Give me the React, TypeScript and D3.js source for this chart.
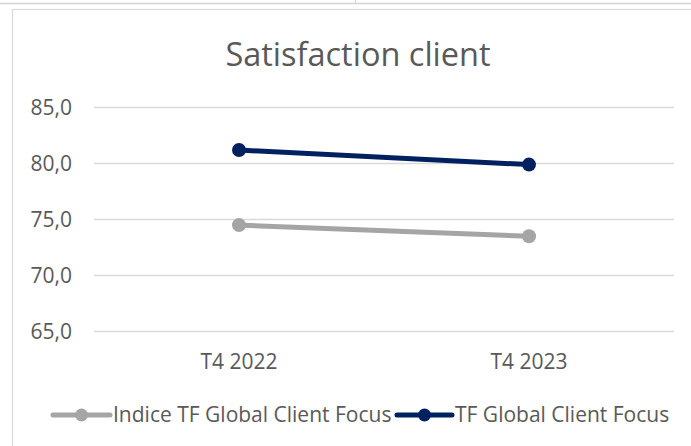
import React, { useEffect, useRef } from 'react';
import * as d3 from 'd3';

const categories = ['T4 2022', 'T4 2023'];
const indiceValues = [74.5, 73.5];
const focusValues = [81.2, 79.9];
const yTicks = [65, 70, 75, 80, 85];

const seriesNames = ['Indice TF Global Client Focus', 'TF Global Client Focus'];
const seriesColors = ['#A5A5A5', '#002060'];

const FONT = '"Open Sans", sans-serif';

const App: React.FC = () => {
  const ref = useRef<SVGSVGElement | null>(null);

  useEffect(() => {
    if (!ref.current) return;
    const svg = d3.select(ref.current);
    svg.selectAll('*').remove();

    const width = 691;
    const height = 446;

    svg.append('rect').attr('width', width).attr('height', height).attr('fill', '#fff');

    // spreadsheet cell lines behind the chart
    svg.append('line').attr('x1', 0).attr('x2', width).attr('y1', 3.5).attr('y2', 3.5)
      .attr('stroke', '#D4D4D4').attr('stroke-width', 1.5);
    svg.append('line').attr('x1', 355.5).attr('x2', 355.5).attr('y1', 0).attr('y2', 3)
      .attr('stroke', '#D4D4D4');

    // chart frame
    svg.append('rect').attr('x', 12.5).attr('y', 9.5).attr('width', 700).attr('height', 460)
      .attr('fill', '#fff').attr('stroke', '#D9D9D9').attr('stroke-width', 1.2);

    const x = d3.scaleBand().domain(categories).range([94, 674]).padding(0);
    const y = d3.scaleLinear().domain([65, 85]).range([331.5, 107.5]);
    const cx = (c: string) => (x(c) ?? 0) + x.bandwidth() / 2;

    // title
    svg.append('text')
      .attr('x', 358).attr('y', 66)
      .attr('text-anchor', 'middle')
      .attr('font-family', FONT).attr('font-size', 32.5)
      .attr('fill', '#595959')
      .text('Satisfaction client');

    // gridlines
    const grid = svg.append('g');
    grid.selectAll('line').data(yTicks).enter().append('line')
      .attr('x1', 94).attr('x2', 674)
      .attr('y1', d => y(d)).attr('y2', d => y(d))
      .attr('stroke', '#D9D9D9').attr('stroke-width', 1.5);

    // y labels
    svg.append('g').selectAll('text').data(yTicks).enter().append('text')
      .attr('x', 72).attr('y', d => y(d))
      .attr('dy', '0.35em')
      .attr('text-anchor', 'end')
      .attr('font-family', FONT).attr('font-size', 21)
      .attr('fill', '#595959')
      .text(d => d3.format('.1f')(d).replace('.', ','));

    // x labels
    svg.append('g').selectAll('text').data(categories).enter().append('text')
      .attr('x', d => cx(d)).attr('y', 362)
      .attr('dy', '0.35em')
      .attr('text-anchor', 'middle')
      .attr('font-family', FONT).attr('font-size', 21)
      .attr('fill', '#595959')
      .text(d => d);

    const allSeries = [indiceValues, focusValues];
    const line = d3.line<number>()
      .x((_, i) => cx(categories[i]))
      .y(d => y(d));

    allSeries.forEach((vals, si) => {
      const g = svg.append('g');
      g.append('path').datum(vals)
        .attr('d', line)
        .attr('fill', 'none')
        .attr('stroke', seriesColors[si])
        .attr('stroke-width', 5)
        .attr('stroke-linecap', 'round');
      g.selectAll('circle').data(vals).enter().append('circle')
        .attr('cx', (_, i) => cx(categories[i]))
        .attr('cy', d => y(d))
        .attr('r', 7)
        .attr('fill', seriesColors[si]);
    });

    // legend
    const legendY = 415;
    const legendItems = [
      { x0: 53, x1: 110, tx: 113 },
      { x0: 397, x1: 452, tx: 455 },
    ];
    legendItems.forEach((it, i) => {
      const g = svg.append('g');
      g.append('line')
        .attr('x1', it.x0).attr('x2', it.x1)
        .attr('y1', legendY).attr('y2', legendY)
        .attr('stroke', seriesColors[i]).attr('stroke-width', 5)
        .attr('stroke-linecap', 'round');
      g.append('circle')
        .attr('cx', (it.x0 + it.x1) / 2).attr('cy', legendY).attr('r', 6.5)
        .attr('fill', seriesColors[i]);
      g.append('text')
        .attr('x', it.tx).attr('y', legendY)
        .attr('dy', '0.35em')
        .attr('font-family', FONT).attr('font-size', 21)
        .attr('fill', '#595959')
        .text(seriesNames[i]);
    });
  }, []);

  return (
    <svg
      ref={ref}
      width={691}
      height={446}
      style={{ position: 'absolute', left: 0, top: 0 }}
    />
  );
};

export default App;
